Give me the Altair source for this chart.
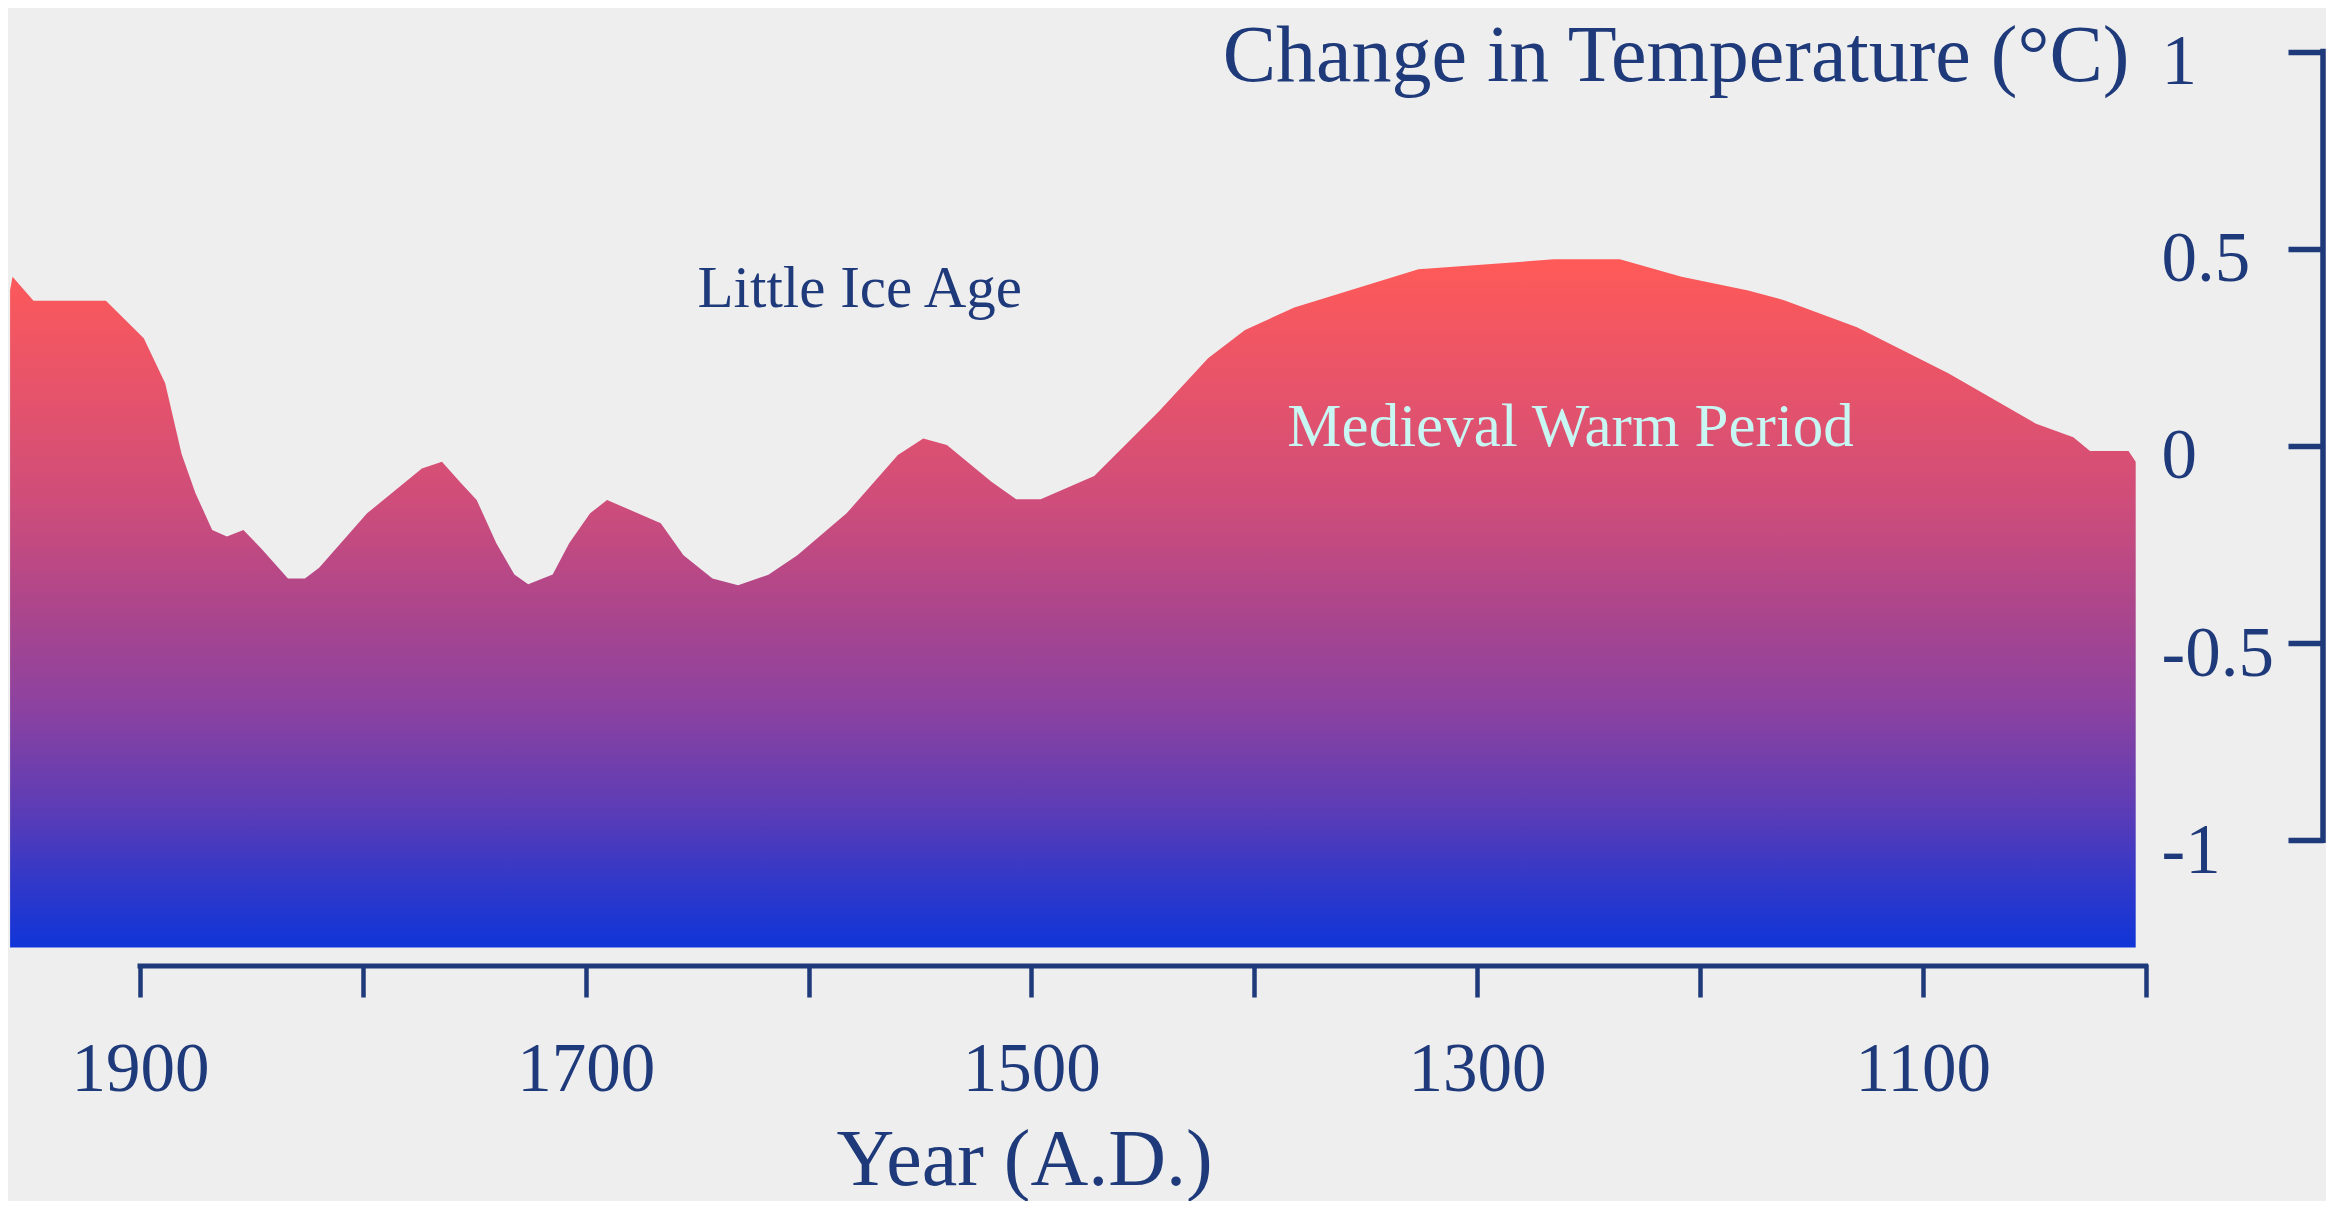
import altair as alt
import pandas as pd

# ---- data (year A.D., temperature change in deg C) ----
years = [1958.3, 1957.2, 1947.8, 1915.3, 1898.3, 1888.7, 1881.3, 1875.1, 1867.6, 1861.0,
         1853.6, 1845.6, 1833.6, 1826.0, 1819.6, 1798.1, 1773.5, 1764.5, 1756.5, 1748.9,
         1740.1, 1732.0, 1725.8, 1714.8, 1707.4, 1698.0, 1690.4, 1666.3, 1656.1, 1643.1,
         1631.6, 1618.0, 1605.0, 1582.9, 1559.9, 1548.5, 1537.9, 1517.9, 1506.8, 1495.8,
         1471.8, 1442.8, 1420.7, 1404.1, 1382.0, 1326.3, 1265.5, 1235.9, 1208.2, 1178.3,
         1162.5, 1129.5, 1088.5, 1049.1, 1032.4, 1024.9, 1007.6, 1004.4]
temps = [0.395, 0.429, 0.368, 0.368, 0.273, 0.159, -0.021, -0.120, -0.213, -0.230,
         -0.213, -0.260, -0.336, -0.336, -0.309, -0.171, -0.057, -0.040, -0.091, -0.137,
         -0.247, -0.326, -0.351, -0.326, -0.247, -0.171, -0.137, -0.196, -0.277, -0.336,
         -0.353, -0.327, -0.277, -0.171, -0.023, 0.019, 0.002, -0.091, -0.135, -0.135,
         -0.076, 0.087, 0.222, 0.294, 0.351, 0.448, 0.473, 0.473, 0.429, 0.394,
         0.370, 0.301, 0.184, 0.056, 0.022, -0.013, -0.013, -0.040]
area_base = -1.272

x_ticks = [1900, 1800, 1700, 1600, 1500, 1400, 1300, 1200, 1100, 1000]
y_ticks = [1, 0.5, 0, -0.5, -1]
x_axis_span = [1900, 1000]
y_axis_span = [1, -1]

ann_labels = ["Little Ice Age", "Medieval Warm Period"]
ann_years = [1577, 1258]
ann_temps = [0.353, 0.0]

x_title = "Year (A.D.)"
y_title = "Change in Temperature (°C)"

NAVY = "#1f3a7a"
SERIF = "Liberation Serif"

df = pd.DataFrame({"year": years, "temp": temps})
df["base"] = area_base

xscale = alt.Scale(domain=[1000, 1958.34], reverse=True, nice=False, zero=False)
yscale = alt.Scale(domain=[-1.2718, 1.1103], nice=False, zero=False)

gradient = alt.Gradient(
    gradient="linear",
    x1=0, x2=0, y1=0, y2=1,
    stops=[
        alt.GradientStop(color="#ff5a58", offset=0),
        alt.GradientStop(color="#e5536b", offset=0.2),
        alt.GradientStop(color="#cf4d7a", offset=0.35),
        alt.GradientStop(color="#ae468b", offset=0.5),
        alt.GradientStop(color="#8c42a0", offset=0.65),
        alt.GradientStop(color="#5c3cb6", offset=0.8),
        alt.GradientStop(color="#3338c8", offset=0.9),
        alt.GradientStop(color="#1035d8", offset=1),
    ],
)

x_axis = alt.Axis(
    values=x_ticks, orient="bottom", offset=16.5, domain=False, grid=False,
    ticks=True, tickSize=33, tickWidth=4.5, tickColor=NAVY,
    labelExpr="datum.value % 200 == 100 ? format(datum.value, 'd') : ''",
    labelBaseline="alphabetic", labelPadding=93, labelFont=SERIF, labelFontSize=69,
    labelColor=NAVY, labelOverlap=False, labelFlush=False,
    title=x_title, titleX=1014, titleY=220, titleAlign="center",
    titleBaseline="alphabetic", titleFont=SERIF, titleFontSize=80,
    titleFontWeight="normal", titleColor=NAVY,
)

y_axis = alt.Axis(
    values=y_ticks, orient="left", offset=-2313, domain=False, grid=False,
    ticks=True, tickSize=35, tickWidth=5.5, tickColor=NAVY,
    labelExpr="replace(format(datum.value, '~g'), '\u2212', '-')",
    labelAlign="left", labelBaseline="alphabetic", labelPadding=127, labelOffset=32,
    labelFont=SERIF, labelFontSize=71, labelColor=NAVY,
    labelOverlap=False, labelFlush=False,
    title=y_title, titleX=-194, titleY=72, titleAngle=0, titleAlign="right",
    titleBaseline="alphabetic", titleFont=SERIF, titleFontSize=80,
    titleFontWeight="normal", titleColor=NAVY,
)

area = alt.Chart(df).mark_area(interpolate="linear", color=gradient).encode(
    x=alt.X("year:Q", scale=xscale, axis=x_axis),
    y=alt.Y("temp:Q", scale=yscale, axis=y_axis),
    y2="base:Q",
)

xdom = alt.Chart(pd.DataFrame({"year": [x_axis_span[0]], "end": [x_axis_span[1]]})).mark_rule(
    color=NAVY, strokeWidth=5, strokeCap="square"
).encode(
    x=alt.X("year:Q", scale=xscale, axis=x_axis),
    x2="end:Q",
    y=alt.value(958),
)

ydom = alt.Chart(pd.DataFrame({"temp": [y_axis_span[0]], "bottom": [y_axis_span[1]]})).mark_rule(
    color=NAVY, strokeWidth=5.5, strokeCap="square"
).encode(
    x=alt.value(2313),
    y=alt.Y("temp:Q", scale=yscale, axis=y_axis),
    y2="bottom:Q",
)

ann = pd.DataFrame({"label": ann_labels, "year": ann_years, "temp": ann_temps})

lia = alt.Chart(ann.iloc[[0]]).mark_text(
    font=SERIF, fontSize=59, color=NAVY, align="center", baseline="alphabetic"
).encode(
    x=alt.X("year:Q", scale=xscale, axis=x_axis),
    y=alt.Y("temp:Q", scale=yscale, axis=y_axis),
    text="label:N",
)

mwp = alt.Chart(ann.iloc[[1]]).mark_text(
    font=SERIF, fontSize=61, color="#c8f6f3", align="center", baseline="alphabetic"
).encode(
    x=alt.X("year:Q", scale=xscale, axis=x_axis),
    y=alt.Y("temp:Q", scale=yscale, axis=y_axis),
    text="label:N",
)

chart = alt.layer(area, xdom, ydom, lia, mwp).properties(
    width=2135.5,
    height=939.5,
    padding={"left": 2, "top": 0, "right": 180.5, "bottom": 253.5},
    autosize=alt.AutoSizeParams(type="none"),
    background="#eeeeee",
).configure_view(stroke=None)

chart.save("out.html", embed_options={"renderer": "svg", "actions": False})
